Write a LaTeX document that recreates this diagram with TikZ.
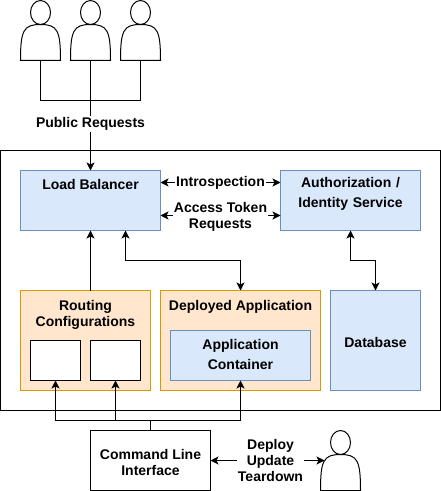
\documentclass[tikz,border=0pt]{standalone}
\usepackage{fontspec}
\setmainfont{Liberation Sans}
\usetikzlibrary{arrows.meta,fit,calc}
\definecolor{bluefill}{HTML}{DAE8FC}
\definecolor{bluedraw}{HTML}{6C8EBF}
\definecolor{orangefill}{HTML}{FFE6CC}
\definecolor{orangedraw}{HTML}{D79B00}
\tikzset{
  x=0.75pt,y=-0.75pt,
  every path/.style={line width=0.75pt},
  tipstyle/.style={-{Stealth[length=6pt,width=6pt,inset=1.5pt]}},
  twotips/.style={{Stealth[length=6pt,width=6pt,inset=1.5pt]}-{Stealth[length=6pt,width=6pt,inset=1.5pt]}},
  boxbase/.style={rectangle,inner sep=0pt,outer sep=0pt,line width=0.75pt},
  outerbox/.style={boxbase,draw=black},
  bluebox/.style={boxbase,draw=bluedraw,fill=bluefill},
  orangebox/.style={boxbase,draw=orangedraw,fill=orangefill},
  whitebox/.style={boxbase,draw=black,fill=white},
  ghostbox/.style={boxbase},
  txt/.style={inner sep=0pt,outer sep=0pt,align=center,font=\fontsize{10.5}{12}\selectfont\bfseries},
  lbl/.style={txt,fill=white,inner xsep=1pt,inner ysep=1pt},
}
\newcommand{\actorshape}[1]{%
  \draw[line width=0.75pt,fill=white] ($(#1.south west)$) .. controls ($(#1.south west)+(0,-30)$) and ($(#1.south west)+(3,-36)$) .. ($(#1.south)+(0,-36)$)
     .. controls ($(#1.south east)+(-3,-36)$) and ($(#1.south east)+(0,-30)$) .. (#1.south east) -- cycle;
  \draw[line width=0.75pt,fill=white] ($(#1.north)+(0,12)$) ellipse [x radius=10,y radius=12];
}
\begin{document}
\begin{tikzpicture}
\useasboundingbox (0,0) rectangle (441,491);
% outer frame
\node[outerbox,fit={(0.5,150.5)(440.5,410.5)}] (frame) {};
% actors
\node[ghostbox,fit={(20.5,0.5)(60.5,60.5)}] (u1) {};
\node[ghostbox,fit={(70.5,0.5)(110.5,60.5)}] (u2) {};
\node[ghostbox,fit={(120.5,0.5)(160.5,60.5)}] (u3) {};
\node[ghostbox,fit={(320.5,430.5)(360.5,490.5)}] (op) {};
\actorshape{u1}\actorshape{u2}\actorshape{u3}\actorshape{op}
% boxes
\node[bluebox,fit={(20.5,170.5)(160.5,230.5)}] (lb) {};
\node[bluebox,fit={(280.5,170.5)(420.5,230.5)}] (auth) {};
\node[orangebox,fit={(20.5,290.5)(150.5,390.5)}] (routing) {};
\node[whitebox,fit={(30.5,340.5)(80.5,380.5)}] (cfga) {};
\node[whitebox,fit={(90.5,340.5)(140.5,380.5)}] (cfgb) {};
\node[orangebox,fit={(160.5,290.5)(320.5,390.5)}] (deployed) {};
\node[bluebox,fit={(170.5,330.5)(310.5,380.5)}] (container) {};
\node[bluebox,fit={(330.5,290.5)(420.5,390.5)}] (db) {};
\node[whitebox,fit={(90.5,430.5)(210.5,490.5)}] (cli) {};
% helper coordinates
\coordinate (bus) at (90.5,100.5);
\coordinate (intL) at (160.5,182.5);
\coordinate (intR) at (280.5,182.5);
\coordinate (accL) at (160.5,215.5);
\coordinate (accR) at (280.5,215.5);
\coordinate (opEdge) at (324.5,460.5);
\coordinate (cliMid) at (150.5,420.5);
\coordinate (lbRoute) at (90.5,230.5);
\coordinate (routeTop) at (90.5,290.5);
\coordinate (lbApp) at (125.5,230.5);
\coordinate (appBend) at (240.5,260.5);
\coordinate (authDb) at (350.5,230.5);
\coordinate (dbBend) at (375.5,260.5);
\coordinate (cfgaIn) at (55.5,380.5);
\coordinate (cfgbIn) at (115.5,380.5);
\coordinate (appIn) at (240.5,380.5);
% connectors
\draw (u1.south) |- (bus) -| (u3.south);
\draw[tipstyle] (u2.south) -- (u2.south |- lb.north);
\draw[twotips] (intL) -- (intR);
\draw[twotips] (accL) -- (accR);
\draw[tipstyle] (routeTop) -- (lbRoute);
\draw[twotips] (lbApp) |- (appBend) -- (appBend |- deployed.north);
\draw[twotips] (authDb) |- (dbBend) -- (dbBend |- db.north);
\draw (cli.north) -- (cliMid);
\draw[tipstyle] (cliMid) -| (cfgaIn);
\draw[tipstyle] (cliMid) -| (cfgbIn);
\draw[tipstyle] (cliMid) -| (appIn);
\draw[twotips] (cli.east) -- (opEdge);
% box texts
\node[txt] (tlb) at (90.5,184) {Load Balancer};
\node[txt,text width=130pt] (tauth) at (350.5,194) {Authorization /\\[3pt]Identity Service};
\node[txt] (trouting) at (85.5,315) {Routing\\Configurations};
\node[txt] (tdeployed) at (240.5,307) {Deployed Application};
\node[txt] (tcontainer) at (240.5,354) {Application\\[3pt]Container};
\node[txt] (tdb) at (375.5,342) {Database};
\node[txt] (tcli) at (150.5,462) {Command Line\\Interface};
% connector labels
\node[lbl] (lpublic) at (90.5,124) {Public Requests};
\node[lbl] (lintro) at (220.5,183) {Introspection};
\node[lbl] (laccess) at (220.5,217) {Access Token\\Requests};
\node[lbl] (lops) at (270.5,460) {Deploy\\Update\\Teardown};
\end{tikzpicture}
\end{document}
